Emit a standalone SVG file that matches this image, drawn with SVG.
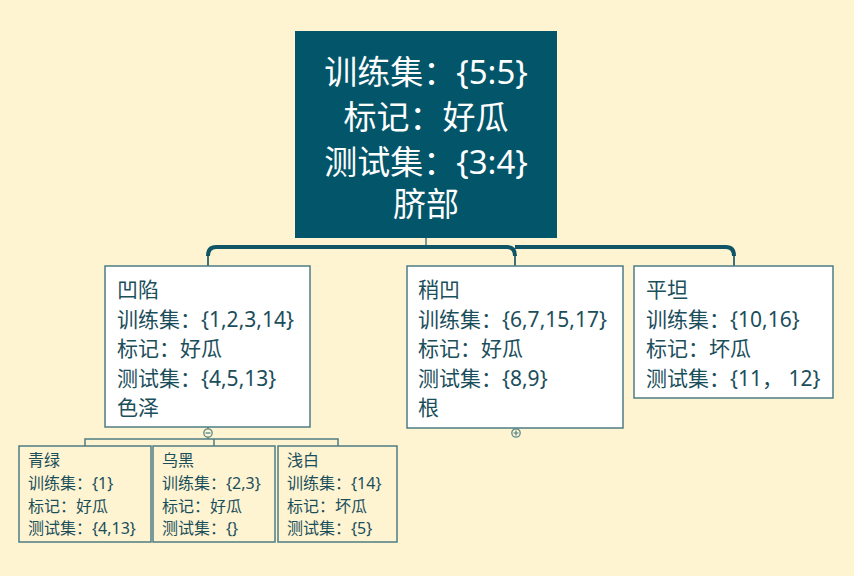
<svg xmlns="http://www.w3.org/2000/svg" width="854" height="576" viewBox="0 0 854 576">
<style>
text{font-family:"Noto Sans","Noto Sans CJK SC",sans-serif;fill:#1B4E5B}
.root text{fill:#ffffff;font-size:33px;text-anchor:middle}
.mid text{font-size:21px}
.leaf text{font-size:16px}
.mid rect{fill:#ffffff;stroke:#4E7C84;stroke-width:1.5}
.leaf rect{fill:#FEF4D2;stroke:#4E7C84;stroke-width:1.5}
.thick{fill:none;stroke:#0F5566;stroke-width:4}
.drop{fill:none;stroke:#3F7078;stroke-width:2}
.thin{fill:none;stroke:#4E7C84;stroke-width:1.5}
.tog{fill:#FEF4D2;stroke:#5A8A88;stroke-width:1.3}
</style>
<rect width="854" height="576" fill="#FEF4D2"/>
<g id="connectors">
<line class="thin" x1="426" y1="238" x2="426" y2="247"/>
<path class="drop" d="M208 254 V266 M515 254 V266 M734 254 V266"/>
<path class="thick" d="M208 256 Q208 247 216 247 H507 Q515 247 515 256"/>
<path class="thick" d="M515 247 H726 Q734 247 734 256"/>
<line class="thin" x1="208" y1="427" x2="208" y2="439"/>
<path class="thin" d="M85 446 V439 H338 V446 M214 439 V446"/>
<circle class="tog" cx="208" cy="433" r="4.2"/>
<line x1="205.5" y1="433" x2="210.5" y2="433" stroke="#4E7C84" stroke-width="1.2"/>
<circle class="tog" cx="516" cy="433" r="4.2"/>
<path d="M513.5 433 H518.5 M516 430.5 V435.5" stroke="#4E7C84" stroke-width="1.2"/>
</g>
<g id="root" class="root">
<rect x="295" y="31" width="262" height="207" fill="#03566A"/>
<text x="426" y="84">训练集：{5:5}</text>
<text x="426" y="129">标记：好瓜</text>
<text x="426" y="174">测试集：{3:4}</text>
<text x="426" y="216">脐部</text>
</g>
<g id="n-aoxian" class="mid">
<rect x="105" y="266" width="205" height="161"/>
<text x="117" y="297">凹陷</text>
<text x="117" y="326.5">训练集：{1,2,3,14}</text>
<text x="117" y="356">标记：好瓜</text>
<text x="117" y="385.5">测试集：{4,5,13}</text>
<text x="117" y="415">色泽</text>
</g>
<g id="n-shaoao" class="mid">
<rect x="407" y="266" width="216" height="162"/>
<text x="418" y="297">稍凹</text>
<text x="418" y="326.5">训练集：{6,7,15,17}</text>
<text x="418" y="356">标记：好瓜</text>
<text x="418" y="385.5">测试集：{8,9}</text>
<text x="418" y="415">根</text>
</g>
<g id="n-pingtan" class="mid">
<rect x="634" y="266" width="199" height="132"/>
<text x="646" y="297">平坦</text>
<text x="646" y="326.5">训练集：{10,16}</text>
<text x="646" y="356">标记：坏瓜</text>
<text x="646" y="385.5">测试集：{11， 12}</text>
</g>
<g id="n-qinglv" class="leaf">
<rect x="19" y="446" width="132" height="96"/>
<text x="28" y="466">青绿</text>
<text x="28" y="489">训练集：{1}</text>
<text x="28" y="512">标记：好瓜</text>
<text x="28" y="534">测试集：{4,13}</text>
</g>
<g id="n-wuhei" class="leaf">
<rect x="153" y="446" width="122" height="96"/>
<text x="162" y="466">乌黑</text>
<text x="162" y="489">训练集：{2,3}</text>
<text x="162" y="512">标记：好瓜</text>
<text x="162" y="534">测试集：{}</text>
</g>
<g id="n-qianbai" class="leaf">
<rect x="278" y="446" width="119" height="96"/>
<text x="287" y="466">浅白</text>
<text x="287" y="489">训练集：{14}</text>
<text x="287" y="512">标记：坏瓜</text>
<text x="287" y="534">测试集：{5}</text>
</g>
</svg>
